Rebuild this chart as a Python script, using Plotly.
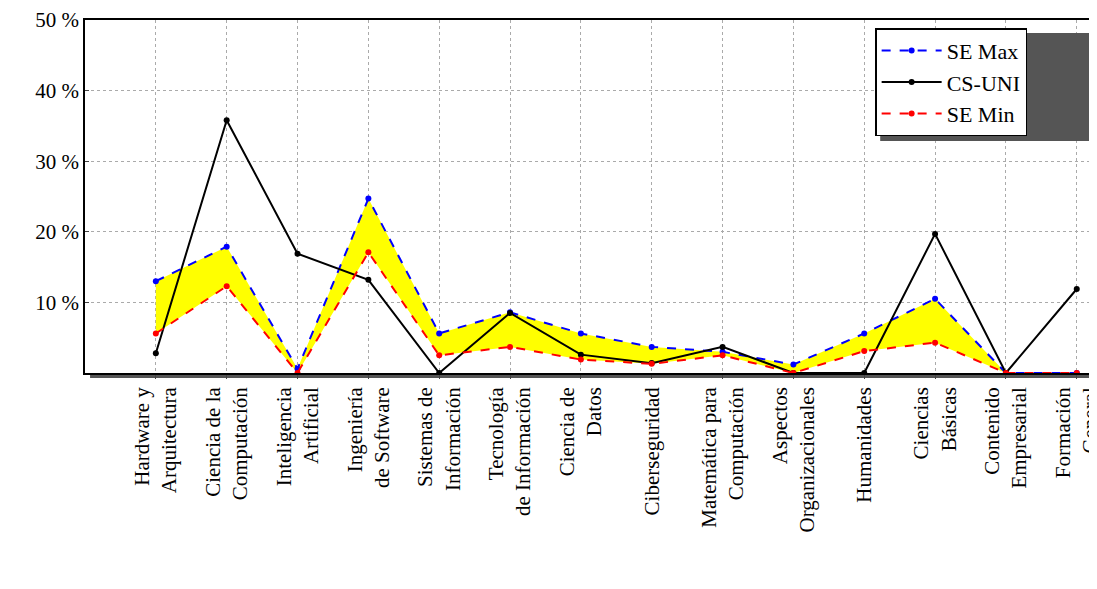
import plotly.graph_objects as go

categorias = ["Hardware y<br>Arquitectura", "Ciencia de la<br>Computación", "Inteligencia<br>Artificial",
              "Ingeniería<br>de Software", "Sistemas de<br>Información", "Tecnología<br>de Información",
              "Ciencia de<br>Datos", "Ciberseguridad", "Matemática para<br>Computación",
              "Aspectos<br>Organizacionales", "Humanidades", "Ciencias<br>Básicas",
              "Contenido<br>Empresarial", "Formación<br>General"]
se_max = [13.0, 17.9, 0.6, 24.7, 5.6, 8.6, 5.6, 3.7, 3.0, 1.2, 5.6, 10.5, 0, 0]
cs_uni = [2.8, 35.8, 16.9, 13.2, 0, 8.5, 2.6, 1.4, 3.7, 0, 0, 19.7, 0, 11.9]
se_min = [5.6, 12.3, 0, 17.1, 2.5, 3.7, 1.9, 1.3, 2.5, 0, 3.1, 4.3, 0, 0]
ticks_y = [10, 20, 30, 40, 50]

x = list(range(len(categorias)))
font = "Liberation Serif"

fig = go.Figure()
fig.add_trace(go.Scatter(x=x, y=se_min, mode="lines", line=dict(width=0), showlegend=False, hoverinfo="skip"))
fig.add_trace(go.Scatter(x=x, y=se_max, mode="lines", line=dict(width=0), fill="tonexty",
                         fillcolor="yellow", showlegend=False, hoverinfo="skip"))
fig.add_trace(go.Scatter(x=x, y=se_max, name="SE Max", mode="lines+markers",
                         line=dict(color="blue", dash="dash", width=2), marker=dict(size=6, color="blue")))
fig.add_trace(go.Scatter(x=x, y=cs_uni, name="CS-UNI", mode="lines+markers",
                         line=dict(color="black", width=2), marker=dict(size=6, color="black")))
fig.add_trace(go.Scatter(x=x, y=se_min, name="SE Min", mode="lines+markers",
                         line=dict(color="red", dash="dash", width=2), marker=dict(size=6, color="red")))

# sombras del marco y de la leyenda
fig.add_shape(type="rect", xref="paper", yref="paper", x0=0.005, x1=1.005, y0=-0.014, y1=0.986,
              fillcolor="#555", line=dict(width=0), layer="below")
fig.add_shape(type="rect", xref="paper", yref="paper", x0=0, x1=1, y0=0, y1=1,
              fillcolor="white", line=dict(width=0), layer="below")
fig.add_shape(type="rect", xref="paper", yref="paper", x0=0.785, x1=0.993, y0=0.657, y1=0.963,
              fillcolor="#555", line=dict(width=0))

fig.update_layout(
    width=1097, height=589,
    margin=dict(l=77, r=7, t=12, b=224, autoexpand=False),
    plot_bgcolor="rgba(0,0,0,0)", paper_bgcolor="white",
    font=dict(family=font, size=21, color="black"),
    legend=dict(x=0.78, y=0.977, xanchor="left", yanchor="top", bgcolor="white",
                traceorder="normal", itemwidth=60, entrywidth=170,
                bordercolor="black", borderwidth=1.5, font=dict(size=22)),
    xaxis=dict(range=[-1, 13.3], tickvals=x, ticktext=categorias, tickangle=-90,
               showgrid=True, gridcolor="#aaa", griddash="dot", automargin=False,
               showline=True, mirror=True, linecolor="black", linewidth=1.5,
               zeroline=False, ticks="outside", ticklen=4),
    yaxis=dict(range=[0, 50], tickvals=ticks_y, ticktext=[f"{v} %" for v in ticks_y],
               showgrid=True, gridcolor="#aaa", griddash="dot", gridwidth=1, automargin=False,
               showline=True, mirror=True, linecolor="black", linewidth=1.5, zeroline=False,
               ticks="inside", ticklen=4),
)
fig.write_html("out.html")
